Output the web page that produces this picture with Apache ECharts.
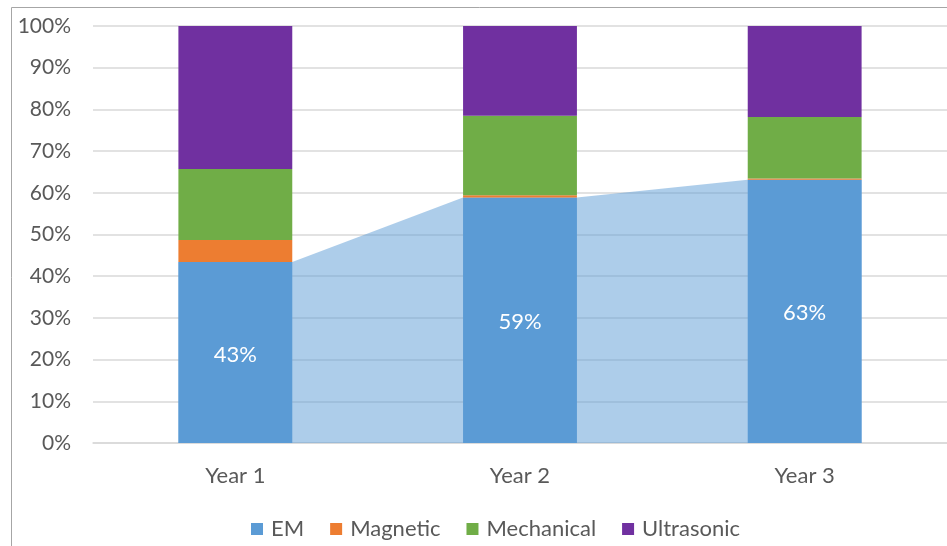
<!DOCTYPE html>
<html>
<head>
<meta charset="utf-8">
<script src="https://cdn.jsdelivr.net/npm/echarts@6/dist/echarts.min.js"></script>
<style>
  html, body { margin: 0; padding: 0; background: #fff; }
  #chart { width: 947px; height: 546px; }
</style>
</head>
<body>
<div id="chart"></div>
<script>
// Share of each technology per year (percent of total)
const categories = ['Year 1', 'Year 2', 'Year 3'];
const emShare = [43.4, 58.85, 63.15];
const magneticShare = [5.3, 0.55, 0.25];
const mechanicalShare = [17.0, 19.1, 14.8];
const ultrasonicShare = [34.3, 21.5, 21.8];
const yTickLabels = ['0%', '10%', '20%', '30%', '40%', '50%', '60%', '70%', '80%', '90%', '100%'];

const FONT = 'Lato';
const TEXT = '#595959';
const FS = 22;
const HALF_BAR = 0.2; // half of the bar width, in category units

// Band joining the EM segments from one bar edge to the next
const emBand = [];
emShare.forEach((v, i) => {
  emBand.push([i - HALF_BAR, v]);
  emBand.push([i + HALF_BAR, v]);
});

const chart = echarts.init(document.getElementById('chart'));

function barSeries(name, data, color, extra) {
  return Object.assign({
    name: name,
    type: 'bar',
    stack: 'total',
    barWidth: '40%',
    data: data,
    itemStyle: { color: color },
    z: 3
  }, extra || {});
}

chart.setOption({
  animation: false,
  textStyle: { fontFamily: FONT },
  graphic: [{
    type: 'rect',
    shape: { x: 11.5, y: 7.5, width: 1000, height: 1000 },
    style: { fill: 'none', stroke: '#a6a6a6', lineWidth: 1 },
    z: -1
  }],
  grid: { left: 93, top: 26, width: 857, height: 417, containLabel: false },
  legend: {
    top: 513,
    left: 246,
    padding: 5,
    icon: 'rect',
    itemWidth: 12,
    itemHeight: 12,
    itemGap: 26,
    textStyle: { color: TEXT, fontSize: FS, fontFamily: FONT, padding: [0, 0, 0, 3] },
    data: ['EM', 'Magnetic', 'Mechanical', 'Ultrasonic']
  },
  xAxis: [{
    type: 'category',
    data: categories,
    axisLine: { lineStyle: { color: '#d9d9d9', width: 1.5 } },
    axisTick: { show: false },
    axisLabel: { color: TEXT, fontSize: FS, margin: 22, fontFamily: FONT }
  }, {
    type: 'value',
    min: -0.5,
    max: 2.5,
    show: false
  }],
  yAxis: {
    type: 'value',
    min: 0,
    max: 100,
    interval: 10,
    axisLine: { show: false },
    axisTick: { show: false },
    splitLine: { lineStyle: { color: '#d9d9d9', width: 1.5 } },
    axisLabel: {
      color: TEXT,
      fontSize: 21,
      margin: 22,
      fontFamily: FONT,
      formatter: (v) => yTickLabels[Math.round(v / 10)]
    }
  },
  series: [
    {
      name: 'EM band',
      type: 'line',
      xAxisIndex: 1,
      data: emBand,
      symbol: 'none',
      lineStyle: { width: 0 },
      areaStyle: { color: '#5b9bd5', opacity: 0.5 },
      silent: true,
      z: 1
    },
    barSeries('EM', emShare, '#5b9bd5', {
      label: {
        show: true,
        position: 'inside',
        color: '#ffffff',
        fontSize: FS,
        fontFamily: FONT,
        offset: [0, 2],
        formatter: (p) => Math.round(p.value) + '%'
      }
    }),
    barSeries('Magnetic', magneticShare, '#ed7d31'),
    barSeries('Mechanical', mechanicalShare, '#70ad47'),
    barSeries('Ultrasonic', ultrasonicShare, '#7030a0')
  ]
});
</script>
</body>
</html>
